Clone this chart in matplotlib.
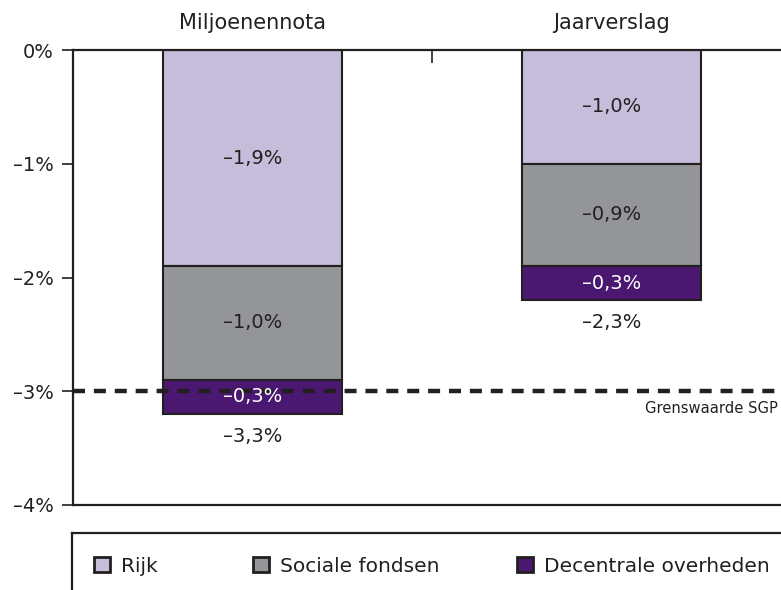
import numpy as np
import matplotlib.pyplot as plt
from matplotlib.patches import Patch

plt.rcParams['font.family'] = ['DejaVu Sans']

categories = ["Miljoenennota", "Jaarverslag"]
series = ["Rijk", "Sociale fondsen", "Decentrale overheden"]
values = {
    "Rijk": [-1.9, -1.0],
    "Sociale fondsen": [-1.0, -0.9],
    "Decentrale overheden": [-0.3, -0.3],
}
totals = [-3.3, -2.3]
grens = -3.0
yticks = [0, -1, -2, -3, -4]

colors = {"Rijk": "#c5bdd9", "Sociale fondsen": "#939598", "Decentrale overheden": "#4a1870"}
txtcol = {"Rijk": "#231f20", "Sociale fondsen": "#231f20", "Decentrale overheden": "white"}
ink = "#231f20"


def pct(v):
    return ("%.1f%%" % v).replace(".", ",").replace("-", "\u2013")


fig = plt.figure(figsize=(7.81, 5.9), dpi=100)
ax = fig.add_axes([73 / 781, 1 - 505 / 590, 718 / 781, 455 / 590])

x = np.arange(len(categories))
bottom = np.zeros(len(categories))
for s in series:
    v = np.array(values[s])
    ax.bar(x, v, 0.5, bottom=bottom, color=colors[s], edgecolor=ink, linewidth=1.5, zorder=2)
    for xi, b, vi in zip(x, bottom, v):
        ax.text(xi, b + vi / 2, pct(vi), ha="center", va="center", fontsize=14,
                color=txtcol[s], zorder=4)
    bottom = bottom + v

for xi, b, t in zip(x, bottom, totals):
    ax.text(xi, b - 0.2, pct(t), ha="center", va="center", fontsize=14, color=ink)

ax.axhline(grens, color=ink, linewidth=3.2, linestyle=(0, (2.7, 2.0)), zorder=3)
# reference cuts this label at the right edge; keep it just inside instead
ax.text(1.094, -3.19, "Grenswaarde SGP", ha="left", va="baseline", fontsize=10.6, color=ink)

ax.set_xlim(-0.5, 1.5)
ax.set_ylim(-4, 0)
ax.set_yticks(yticks)
ax.set_yticklabels([("%d%%" % t).replace("-", "\u2013") for t in yticks], fontsize=14, color=ink)
ax.tick_params(axis="y", length=8, width=1.2, color=ink, pad=6)

ax.xaxis.tick_top()
ax.set_xticks(x)
ax.set_xticklabels(categories, fontsize=15, color=ink)
ax.tick_params(axis="x", which="major", length=0, pad=12)
ax.set_xticks([0.5], minor=True)
ax.tick_params(axis="x", which="minor", top=True, bottom=False, direction="in",
               length=9, width=1.2, color=ink)

for sp in ax.spines.values():
    sp.set_linewidth(1.6)
    sp.set_color(ink)

# legend box
lax = fig.add_axes([72 / 781, -0.1, 0.95, 0.1 + 57 / 590])
lax.set_xticks([])
lax.set_yticks([])
for sp in lax.spines.values():
    sp.set_linewidth(1.6)
    sp.set_color(ink)

leg_x = [94 / 781, 253 / 781, 517 / 781]
for s, lx in zip(series, leg_x):
    h = Patch(facecolor=colors[s], edgecolor=ink, linewidth=2)
    lg = fig.legend([h], [s], loc="center left", bbox_to_anchor=(lx, 1 - 566 / 590),
                    frameon=False, fontsize=14.5, handlelength=0.78, handleheight=0.78,
                    handletextpad=0.55, borderpad=0, borderaxespad=0)
    for t in lg.get_texts():
        t.set_color(ink)

fig.savefig("out.png", dpi=100)
